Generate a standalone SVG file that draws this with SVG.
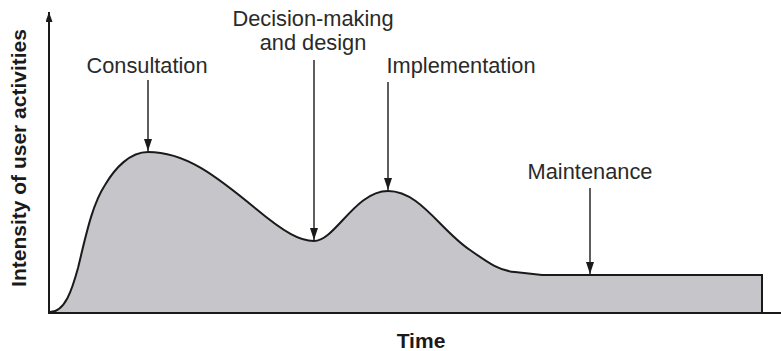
<svg xmlns="http://www.w3.org/2000/svg" width="781" height="351" viewBox="0 0 781 351">
<defs>
<style>
.lbl{font-family:"Liberation Sans",Arial,sans-serif;font-size:21.8px;fill:#2a2a2a;text-anchor:middle}
.ax{font-family:"Liberation Sans",Arial,sans-serif;font-size:21px;font-weight:bold;fill:#1a1a1a;text-anchor:middle}
.ptr{stroke:#1a1a1a;stroke-width:1.4;fill:none;marker-end:url(#ah)}
.axis{stroke:#1a1a1a;stroke-width:2;fill:none}
</style>
<marker id="ah" viewBox="0 0 12 8" refX="12" refY="4" markerWidth="12" markerHeight="8" markerUnits="userSpaceOnUse" orient="auto">
<path d="M0,0 L12,4 L0,8 Z" fill="#1a1a1a"/>
</marker>
<marker id="axh" viewBox="0 0 10 7" refX="10" refY="3.5" markerWidth="10" markerHeight="7" markerUnits="userSpaceOnUse" orient="auto">
<path d="M0,0 L10,3.5 L0,7 Z" fill="#1a1a1a"/>
</marker>
</defs>
<g id="curve">
<path d="M50,312 C65,312 72,290 78,268 C86,235 92,205 105,185 C115,168 130,152 148,152 C185,152 215,175 255,208 C285,233 300,241 314,241 C335,241 355,191 388,191 C420,191 440,230 470,250 C490,264 500,271 515,272 L542,275 L762,275 L762,313 L50,313 Z" fill="#c6c5ca" stroke="none"/>
<path d="M50,312 C65,312 72,290 78,268 C86,235 92,205 105,185 C115,168 130,152 148,152 C185,152 215,175 255,208 C285,233 300,241 314,241 C335,241 355,191 388,191 C420,191 440,230 470,250 C490,264 500,271 515,272 L542,275 L762,275 L762,313" fill="none" stroke="#1a1a1a" stroke-width="2"/>
</g>
<g id="axes">
<line class="axis" x1="49" y1="314" x2="49" y2="12" marker-end="url(#axh)"/>
<line class="axis" x1="48" y1="313" x2="781" y2="313"/>
<text class="ax" transform="translate(26,158) rotate(-90)">Intensity of user activities</text>
<text class="ax" x="421" y="348">Time</text>
</g>
<g id="consultation">
<text class="lbl" x="147" y="73">Consultation</text>
</g>
<g id="decision">
<text class="lbl" x="313" y="26">Decision-making</text>
<text class="lbl" x="313" y="50">and design</text>
</g>
<g id="implementation">
<text class="lbl" x="461" y="73">Implementation</text>
</g>
<g id="maintenance">
<text class="lbl" x="590" y="179">Maintenance</text>
</g>
<g id="connectors">
<line class="ptr" x1="148" y1="80" x2="148" y2="151"/>
<line class="ptr" x1="314" y1="60" x2="314" y2="240"/>
<line class="ptr" x1="388" y1="82" x2="388" y2="190"/>
<line class="ptr" x1="590" y1="188" x2="590" y2="274"/>
</g>
</svg>
